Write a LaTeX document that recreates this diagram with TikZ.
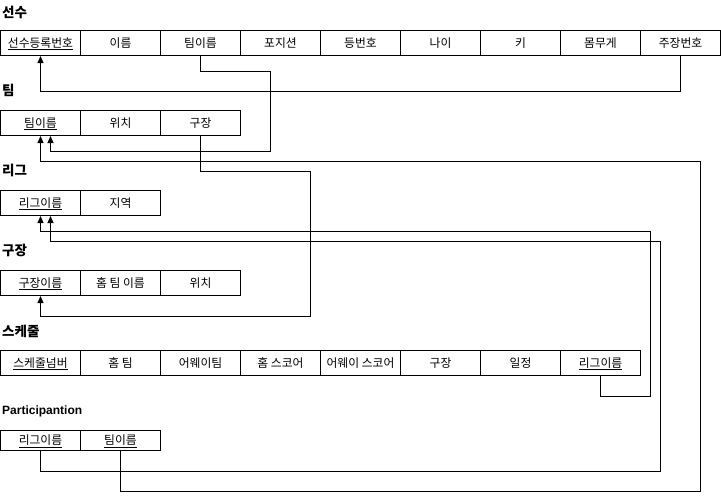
\documentclass[tikz,border=0pt]{standalone}
\usepackage{fontspec}
\setmainfont{Noto Sans CJK KR}
\newfontfamily\latinbold{Liberation Sans}
\usetikzlibrary{arrows.meta}
\begin{document}
\begin{tikzpicture}[x=1pt,y=-1pt,
  cell/.style={draw,line width=1pt,minimum width=80pt,minimum height=25pt,
    inner sep=0pt,anchor=north west,text height=9.5pt,text depth=1.5pt,
    font=\fontsize{11.8}{13}\selectfont},
  thin cell/.style={cell,minimum height=20pt},
  ttl/.style={anchor=west,inner sep=0pt,font=\bfseries\fontsize{13.5}{15}\selectfont},
  conn/.style={line width=1pt,-{Triangle[length=7pt,width=6pt]}}]
\useasboundingbox (0,0) rectangle (721,499);

% table titles
\node[ttl] (ts) at (2,12) {선수};
\node[ttl] (tt) at (2,90) {팀};
\node[ttl] (tl) at (2,170) {리그};
\node[ttl] (tg) at (2,250) {구장};
\node[ttl] (tk) at (2,331) {스케줄};
\node[ttl,font=\latinbold\bfseries\fontsize{12}{14}\selectfont] (tp) at (2,411) {Participantion};

% 선수
\foreach \t [count=\i] in {{\underline{선수등록번호}},이름,팀이름,포지션,등번호,나이,키,몸무게,주장번호}
  \node[cell] (s\i) at ({(\i-1)*80},30) {\t};
% 팀
\foreach \t [count=\i] in {{\underline{팀이름}},위치,구장}
  \node[cell] (t\i) at ({(\i-1)*80},110) {\t};
% 리그
\foreach \t [count=\i] in {{\underline{리그이름}},지역}
  \node[cell] (l\i) at ({(\i-1)*80},190) {\t};
% 구장
\foreach \t [count=\i] in {{\underline{구장이름}},홈 팀 이름,위치}
  \node[cell] (g\i) at ({(\i-1)*80},270) {\t};
% 스케줄
\foreach \t [count=\i] in {{\underline{스케줄넘버}},홈 팀,어웨이팀,홈 스코어,어웨이 스코어,구장,일정,{\underline{리그이름}}}
  \node[cell] (k\i) at ({(\i-1)*80},350) {\t};
% Participantion
\foreach \t [count=\i] in {{\underline{리그이름}},{\underline{팀이름}}}
  \node[thin cell] (p\i) at ({(\i-1)*80},430) {\t};

% foreign keys
\draw[conn] (s9.south) -- ++(0,35) -| (s1.south);
\draw[conn] (s3.south) -- ++(0,15) -- ++(70,0) -- ++(0,80) -| ([xshift=10pt]t1.south);
\draw[conn] (t3.south) -- ++(0,35) -- ++(110,0) -- ++(0,145) -| (g1.south);
\draw[conn] (p2.south) -- ++(0,40) -- ++(580,0) -- ++(0,-330) -| (t1.south);
\draw[conn] (k8.south) -- ++(0,20) -- ++(50,0) -- ++(0,-165) -| (l1.south);
\draw[conn] (p1.south) -- ++(0,20) -- ++(620,0) -- ++(0,-230) -| ([xshift=10pt]l1.south);
\end{tikzpicture}
\end{document}
